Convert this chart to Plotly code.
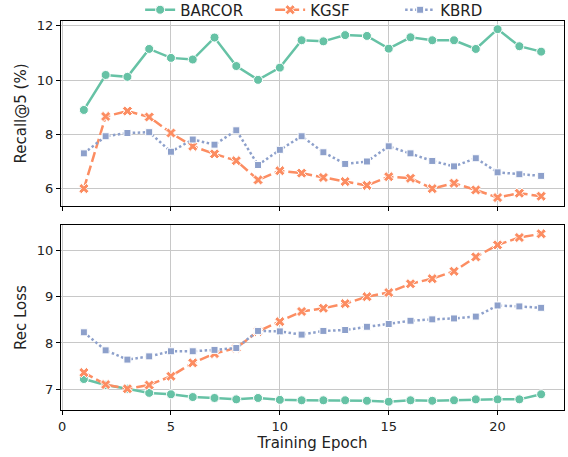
import plotly.graph_objects as go
from plotly.subplots import make_subplots

epochs = list(range(1, 23))

recall_barcor = [8.90, 10.19, 10.12, 11.15, 10.82, 10.76, 11.57, 10.52, 10.01, 10.46, 11.47,
                 11.43, 11.66, 11.63, 11.16, 11.58, 11.47, 11.47, 11.15, 11.88, 11.25, 11.05]
recall_kgsf = [6.00, 8.66, 8.86, 8.64, 8.05, 7.56, 7.28, 7.03, 6.32, 6.66, 6.57,
               6.41, 6.26, 6.12, 6.44, 6.38, 6.00, 6.20, 5.95, 5.67, 5.83, 5.72]
recall_kbrd = [7.30, 7.93, 8.05, 8.08, 7.36, 7.81, 7.62, 8.15, 6.87, 7.43, 7.93,
               7.34, 6.91, 7.00, 7.56, 7.30, 7.02, 6.82, 7.12, 6.60, 6.53, 6.47]

loss_barcor = [7.22, 7.09, 7.01, 6.92, 6.89, 6.83, 6.81, 6.78, 6.81, 6.77, 6.76,
               6.76, 6.76, 6.75, 6.73, 6.76, 6.75, 6.76, 6.78, 6.78, 6.78, 6.89]
loss_kgsf = [7.36, 7.10, 7.01, 7.09, 7.28, 7.57, 7.77, 7.89, 8.25, 8.46, 8.68,
             8.75, 8.85, 9.00, 9.09, 9.28, 9.39, 9.55, 9.86, 10.12, 10.28, 10.36]
loss_kbrd = [8.23, 7.84, 7.64, 7.71, 7.82, 7.82, 7.85, 7.89, 8.26, 8.25, 8.18,
             8.26, 8.28, 8.35, 8.41, 8.48, 8.51, 8.53, 8.57, 8.81, 8.79, 8.76]

names = ["BARCOR", "KGSF", "KBRD"]
colors = ["#66c2a5", "#fc8d62", "#8da0cb"]
symbols = ["circle", "x", "square"]
dashes = ["solid", "10px,4px", "2.5px,2.5px"]
msizes = [9, 9, 7]

fig = make_subplots(rows=2, cols=1, shared_xaxes=True, vertical_spacing=0.049)

for row, series in ((1, [recall_barcor, recall_kgsf, recall_kbrd]),
                    (2, [loss_barcor, loss_kgsf, loss_kbrd])):
    for i, vals in enumerate(series):
        fig.add_trace(go.Scatter(
            x=epochs, y=vals, name=names[i], mode="lines+markers",
            line=dict(color=colors[i], width=2.5, dash=dashes[i]),
            marker=dict(symbol=symbols[i], size=msizes[i], color=colors[i],
                        line=dict(color="white", width=1)),
            showlegend=(row == 1), legendgroup=names[i]), row=row, col=1)

axis_common = dict(showline=True, linecolor="black", linewidth=1, mirror=True,
                   showgrid=True, gridcolor="#c8c8c8", gridwidth=1,
                   ticks="outside", ticklen=4, tickcolor="black",
                   tickfont=dict(size=13, color="#222"), zeroline=False,
                   automargin=False)

fig.update_xaxes(**axis_common, range=[-0.05, 23.05], tickvals=[0, 5, 10, 15, 20])
fig.update_xaxes(title=dict(text="Training Epoch", font=dict(size=15, color="#222"), standoff=4), row=2, col=1)
fig.update_yaxes(**axis_common)
fig.update_yaxes(range=[5.36, 12.18], tickvals=[6, 8, 10, 12],
                 title=dict(text="Recall@5 (%)", font=dict(size=15, color="#222"), standoff=6), row=1, col=1)
fig.update_yaxes(range=[6.55, 10.55], tickvals=[7, 8, 9, 10],
                 title=dict(text="Rec Loss", font=dict(size=15, color="#222"), standoff=6), row=2, col=1)

fig.update_layout(
    width=568, height=457,
    margin=dict(l=61, r=4, t=21, b=47, autoexpand=False),
    paper_bgcolor="white", plot_bgcolor="white",
    font=dict(family="DejaVu Sans", color="#222"),
    legend=dict(orientation="h", x=0.545, xanchor="center", y=1 - 10 / 457, yanchor="middle",
                yref="container", font=dict(size=15), itemwidth=30,
                entrywidth=85, entrywidthmode="pixels",
                bgcolor="rgba(0,0,0,0)", tracegroupgap=0),
)

fig.write_html("out.html", config={"displayModeBar": False},
               post_script="document.body.style.margin='0';")
